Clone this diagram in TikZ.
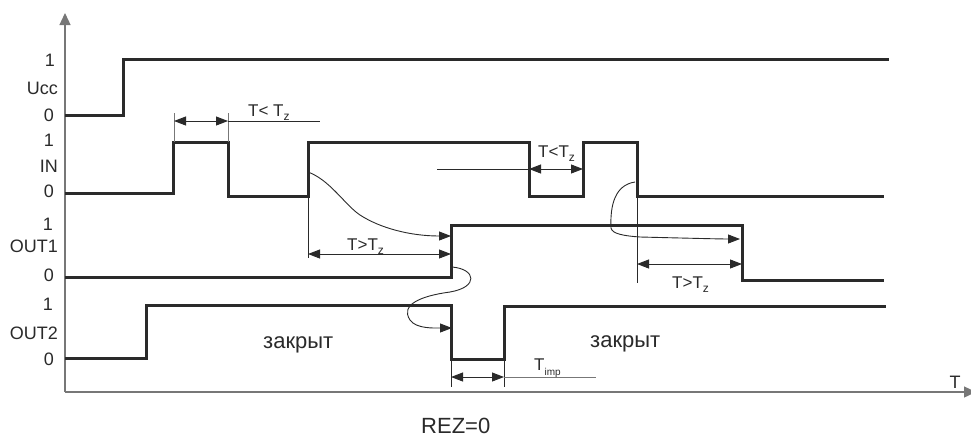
\documentclass[tikz,border=0pt]{standalone}
\usepackage{fontspec}
\setmainfont{Liberation Sans}
\usetikzlibrary{arrows.meta}
\definecolor{sigc}{HTML}{2A2A2A}
\definecolor{axc}{HTML}{777777}
\newcommand{\subz}{\raisebox{-4pt}{\fontsize{12}{12}\selectfont z}}
\begin{document}
\begin{tikzpicture}[x=1pt,y=-1pt,
  sig/.style={line width=3pt,draw=sigc,line join=miter,line cap=rect},
  thinl/.style={line width=0.9pt,draw=sigc},
  extl/.style={line width=0.9pt,draw=axc},
  axl/.style={line width=1.3pt,draw=axc},
  dimarrow/.style={thinl,{Triangle[length=12pt,width=9pt]}-{Triangle[length=12pt,width=9pt]}},
  curvarrow/.style={thinl,-{Triangle[length=12pt,width=9pt]}},
  lbl/.style={inner sep=0pt,font=\fontsize{18}{18}\selectfont,text=sigc},
  tl/.style={inner sep=0pt,font=\fontsize{17}{17}\selectfont,text=sigc,anchor=base west},
  big/.style={inner sep=0pt,font=\fontsize{22}{22}\selectfont,text=sigc,anchor=base west}]
\useasboundingbox (0,0) rectangle (971,437);
% axes
\coordinate (org) at (65,392);
\coordinate (ytop) at (65,13);
\coordinate (xend) at (976,392);
\draw[axl,-{Triangle[length=12pt,width=11pt]}] (org) -- (ytop);
\draw[axl,-{Triangle[length=12pt,width=11pt]}] (org) -- (xend);
\node[lbl,anchor=base] (tax) at (955,388) {T};
% left labels
\node[lbl,anchor=base east] (u1) at (55,66) {1};
\node[lbl,anchor=base east] (uname) at (58,94) {Ucc};
\node[lbl,anchor=base east] (u0) at (54,121) {0};
\node[lbl,anchor=base east] (i1) at (54,146) {1};
\node[lbl,anchor=base east] (iname) at (58,172) {IN};
\node[lbl,anchor=base east] (i0) at (54,197) {0};
\node[lbl,anchor=base east] (a1) at (53,230) {1};
\node[lbl,anchor=base east] (aname) at (58,252) {OUT1};
\node[lbl,anchor=base east] (a0) at (54,281) {0};
\node[lbl,anchor=base east] (b1) at (53,310) {1};
\node[lbl,anchor=base east] (bname) at (58,339) {OUT2};
\node[lbl,anchor=base east] (b0) at (54,365) {0};
% signals
\draw[sig] (66,115) -- (123,115) -- (123,59) -- (887,59);
\draw[sig] (66,193) -- (173,193) -- (173,142) -- (228,142) -- (228,196) -- (308,196) -- (308,142) -- (529,142) -- (529,196) -- (583,196) -- (583,142) -- (637,142) -- (637,196) -- (882,196);
\draw[sig] (66,277) -- (451,277) -- (451,225) -- (742,225) -- (742,280) -- (882,280);
\draw[sig] (66,358) -- (146,358) -- (146,305) -- (451,305) -- (451,359) -- (504,359) -- (504,306) -- (884,306);
% key points
\coordinate (p1l) at (174,113);
\coordinate (p1r) at (228,113);
\coordinate (p1lb) at (174,142);
\coordinate (p1rb) at (228,142);
\coordinate (d1l) at (174,121);
\coordinate (d1r) at (228,121);
\coordinate (d1e) at (320,121);
\coordinate (d2s) at (437,169);
\coordinate (d2l) at (529,169);
\coordinate (d2r) at (583,169);
\coordinate (e3t) at (308,196);
\coordinate (e3b) at (308,258);
\coordinate (d3l) at (308,254);
\coordinate (d3r) at (451,254);
\coordinate (e4t) at (637,196);
\coordinate (e4b) at (637,283);
\coordinate (d4l) at (637,264);
\coordinate (d4r) at (742,264);
\coordinate (e5lt) at (451,359);
\coordinate (e5lb) at (451,387);
\coordinate (e5rt) at (504,359);
\coordinate (e5rb) at (504,387);
\coordinate (d5l) at (451,377);
\coordinate (d5r) at (504,377);
\coordinate (d5e) at (596,377);
% extension lines
\draw[extl] (p1l) -- (p1lb);
\draw[extl] (p1r) -- (p1rb);
\draw[thinl] (e3t) -- (e3b);
\draw[thinl] (e4t) -- (e4b);
\draw[thinl] (e5lt) -- (e5lb);
\draw[thinl] (e5rt) -- (e5rb);
% dimension arrows
\draw[dimarrow] (d1l) -- (d1r);
\draw[thinl] (d1r) -- (d1e);
\draw[thinl] (d2s) -- (d2l);
\draw[dimarrow] (d2l) -- (d2r);
\draw[dimarrow] (d3l) -- (d3r);
\draw[dimarrow] (d4l) -- (d4r);
\draw[dimarrow] (d5l) -- (d5r);
\draw[extl] (d5r) -- (d5e);
% curved arrows
\coordinate (c1s) at (308,172);
\coordinate (c1e) at (451,236);
\draw[curvarrow] (c1s) .. controls (330,180) and (345,205) .. (360,215) .. controls (380,228) and (410,236) .. (c1e);
\coordinate (c2s) at (452,267);
\coordinate (c2e) at (452,328);
\draw[curvarrow] (c2s) .. controls (476,269) and (479,287) .. (450,292) .. controls (420,296) and (400,305) .. (410,320) .. controls (416,329) and (435,328) .. (c2e);
\coordinate (c3s) at (635,182);
\coordinate (c3e) at (740,239);
\draw[curvarrow] (c3s) .. controls (615,185) and (610,205) .. (611,228) .. controls (612,234) and (625,236) .. (640,237) .. controls (680,238) and (720,239) .. (c3e);
% labels
\node[tl] (lt1) at (248,116) {T< T\subz};
\node[tl] (lt2) at (538,157) {T<T\subz};
\node[tl] (lt3) at (347,250) {T>T\subz};
\node[tl] (lt4) at (672,288) {T>T\subz};
\node[tl] (lt5) at (534,370) {T\raisebox{-5pt}{\fontsize{10}{10}\selectfont imp}};
\node[big] (z1) at (263,348) {закрыт};
\node[big] (z2) at (590,347) {закрыт};
\node[big] (rez) at (421,433) {REZ=0};
\end{tikzpicture}
\end{document}
